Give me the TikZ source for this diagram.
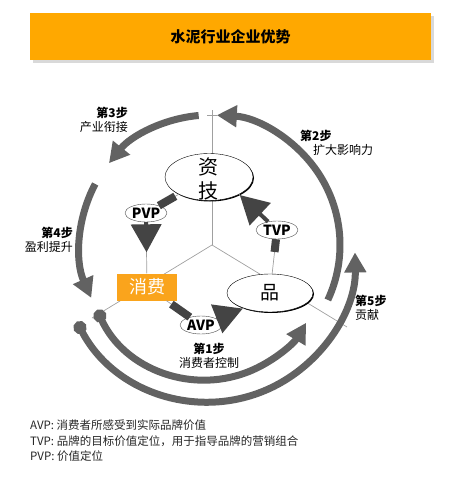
\documentclass[tikz,border=0pt]{standalone}
\usepackage{fontspec}
\setmainfont{Noto Sans CJK SC}
\usetikzlibrary{shapes.geometric, arrows.meta, calc, shadows}
\definecolor{bannerorange}{RGB}{255,168,0}
\definecolor{boxorange}{RGB}{250,164,28}
\definecolor{ringgray}{RGB}{98,98,98}
\definecolor{headgray}{RGB}{68,68,68}
\definecolor{linegray}{RGB}{160,160,160}
\tikzset{
    ring/.style={line width=7pt, draw=ringgray, -{Triangle[length=20pt,width=21pt]}},
    ballring/.style={line width=7pt, draw=ringgray, {Circle[length=13pt]}-{Triangle[length=20pt,width=21pt]}},
    core/.style={ellipse, draw=black, thin, fill=white, inner sep=0pt, drop shadow={shadow xshift=1pt, shadow yshift=-1pt, fill=black, opacity=1}},
    vp/.style={ellipse, draw=black!70, thin, fill=white, minimum width=42pt, minimum height=18pt, inner sep=0pt, font=\fontsize{14}{14}\selectfont\bfseries},
    link/.style={draw=linegray, line width=0.7pt},
    stub/.style={draw=headgray, line width=8pt},
    bigarrow/.style={draw=headgray, line width=4pt, -{Triangle[length=28pt,width=30pt]}},
    steplabel/.style={font=\fontsize{12}{14.5}\selectfont, inner sep=0pt}
}

\begin{document}
\begin{tikzpicture}[x=1pt, y=1pt]
    \useasboundingbox (0,0) rectangle (451,-497);

    % banner
    \fill[black!15] (33,-16) rectangle (434,-63);
    \node (title) [fill=bannerorange, minimum width=401pt, minimum height=47pt, anchor=north west, font=\fontsize{15}{15}\selectfont\bfseries] at (30,-13) {水泥行业企业优势};

    % centre of the Y and of the ring
    \coordinate (mid) at (212,-245);
    \coordinate (cc) at (210,-245);
    \coordinate (topend) at (212,-110);
    \coordinate (leftend) at (92,-318);
    \coordinate (rightend) at (347,-327);
    \draw[link] (mid) -- (topend);
    \draw[link] (mid) -- (leftend);
    \draw[link] (mid) -- (rightend);
    \draw[link] (207,-115) -- (217,-115);

    % outer ring
    \draw[ring] ([shift={(-25:130)}]cc) arc[start angle=-25, end angle=87, radius=130];
    \draw[ring] ([shift={(95:130)}]cc) arc[start angle=95, end angle=141, radius=130];
    \draw[ring] ([shift={(152:130)}]cc) arc[start angle=152, end angle=204, radius=130];

    % lower arcs
    \draw[ballring] ([shift={(207:147)}]208,-255) arc[start angle=207, end angle=361, radius=147];
    \draw[ballring] ([shift={(204:118)}]205,-262) arc[start angle=204, end angle=329, radius=118];

    % nodes
    \node (zj) [core, minimum width=88pt, minimum height=47pt] at (209,-177) {};
    \node (zjtext) [font=\fontsize{20}{24}\selectfont, align=center, inner sep=0pt] at (208,-179) {资\\技};
    \node (pin) [core, minimum width=86pt, minimum height=38pt, font=\fontsize{19}{19}\selectfont] at (270,-293) {品};
    \node (xf) [fill=boxorange, text=white, minimum width=60pt, minimum height=27pt, inner sep=2pt, font=\fontsize{18}{18}\selectfont] at (147,-287) {消费\hspace{20pt}};
    \node (pvp) [vp] at (146,-213) {PVP};
    \node (tvp) [vp] at (277,-230) {TVP};
    \node (avp) [vp] at (201,-325) {AVP};

    % flow
    \draw[link] (zj) -- (pvp);
    \draw[link] (pvp) -- (xf);
    \draw[link] (xf) -- (avp);
    \draw[link] (avp) -- (pin.210);
    \draw[link] (pin) -- (tvp);
    \draw[link] (tvp) -- (zj.-30);
    \draw[stub, shorten <=4pt] (zj) -- (pvp);
    \draw[stub, shorten <=6pt] (xf) -- (avp);
    \draw[stub, shorten <=22pt] (pin) -- (tvp);
    \draw[bigarrow, shorten >=21pt] (pvp) -- (xf);
    \draw[bigarrow, shorten >=1pt] (avp) -- (pin.210);
    \draw[bigarrow, shorten >=1pt] (tvp) -- (zj.-30);

    % step labels
    \node (s3) [steplabel, align=right, anchor=east] at (128,-120) {\textbf{第3步}\\产业衔接};
    \node (s2) [steplabel, align=left, anchor=west] at (300,-143) {\textbf{第2步}\\\hspace*{13pt}扩大影响力};
    \node (s4) [steplabel, align=right, anchor=east] at (73,-240) {\textbf{第4步}\\盈利提升};
    \node (s5) [steplabel, align=left, anchor=west] at (355,-308) {\textbf{第5步}\\贡献};
    \node (s1) [steplabel, align=center] at (209,-356) {\textbf{第1步}\\消费者控制};

    % legend
    \node (legend) [font=\fontsize{11.5}{15.5}\selectfont, align=left, anchor=north west, inner sep=0pt, text=black!85] at (30,-420) {AVP: 消费者所感受到实际品牌价值\\TVP: 品牌的目标价值定位，用于指导品牌的营销组合\\PVP: 价值定位};

\end{tikzpicture}
\end{document}
